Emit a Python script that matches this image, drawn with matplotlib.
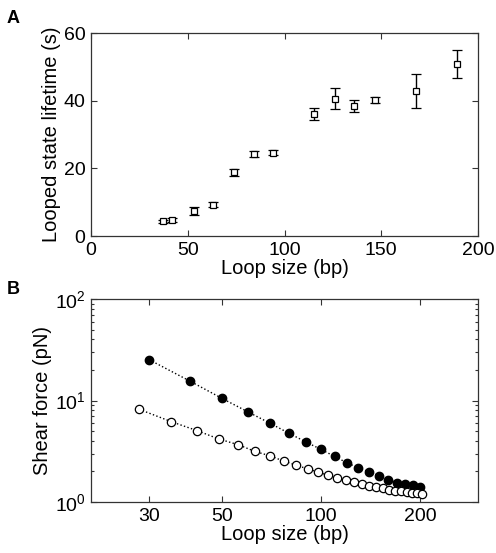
import numpy as np
import matplotlib
matplotlib.use('Agg')
import matplotlib.pyplot as plt
from matplotlib.ticker import FixedLocator, NullLocator, NullFormatter, ScalarFormatter

plt.rcParams['font.family'] = ['Liberation Sans', 'DejaVu Sans']
plt.rcParams['mathtext.default'] = 'regular'

# Panel A: looped state lifetime vs loop size
loop_a = [37, 42, 53, 63, 74, 84, 94, 115, 126, 136, 147, 168, 189]
lifetime = [4.3, 4.6, 7.4, 9.3, 18.8, 24.3, 24.6, 36.1, 40.6, 38.5, 40.2, 42.9, 50.8]
lifetime_err = [0.5, 0.6, 1.2, 0.8, 1.1, 0.9, 0.8, 1.7, 3.2, 1.7, 0.9, 5.0, 4.1]

# Panel B: shear force vs loop size
loop_filled = [30, 40, 50, 60, 70, 80, 90, 100, 110, 120, 130, 140, 150, 160, 170, 180, 190, 200]
force_filled = [25.3, 15.5, 10.5, 7.72, 5.97, 4.75, 3.90, 3.30, 2.81, 2.43, 2.17, 1.98,
                1.82, 1.66, 1.55, 1.49, 1.46, 1.40]
loop_open = [28, 35, 42, 49, 56, 63, 70, 77, 84, 91, 98, 105, 112, 119, 126, 133, 140,
             147, 154, 161, 168, 175, 182, 189, 196, 203]
force_open = [8.2, 6.2, 5.05, 4.17, 3.67, 3.15, 2.85, 2.53, 2.31, 2.12, 1.97, 1.84, 1.74,
              1.64, 1.57, 1.50, 1.44, 1.40, 1.36, 1.32, 1.29, 1.27, 1.26, 1.24, 1.22, 1.20]

fig = plt.figure(figsize=(4.96, 5.53), dpi=100)
ax1 = fig.add_axes([0.1835, 0.5732, 0.7802, 0.3671])
ax2 = fig.add_axes([0.1835, 0.0922, 0.7802, 0.3671])

# panel A
ax1.errorbar(loop_a, lifetime, yerr=lifetime_err, fmt='s', mfc='white', mec='black',
             ms=5, mew=0.9, ecolor='black', elinewidth=1, capsize=3.5, capthick=1)
ax1.set_xlim(0, 200)
ax1.set_ylim(0, 60)
ax1.set_xticks([0, 50, 100, 150, 200])
ax1.set_yticks([0, 20, 40, 60])
ax1.set_xlabel('Loop size (bp)', fontsize=14.5, labelpad=0)
ax1.set_ylabel('Looped state lifetime (s)', fontsize=14.5, labelpad=2)

# panel B
ax2.plot(loop_filled, force_filled, 'o:', color='black', mfc='black', mec='black',
         ms=6, lw=1)
ax2.plot(loop_open, force_open, 'o:', color='black', mfc='white', mec='black',
         ms=6, mew=0.9, lw=1)
ax2.set_xscale('log')
ax2.set_yscale('log')
ax2.set_xlim(20, 300)
ax2.set_ylim(1, 100)
ax2.xaxis.set_major_locator(FixedLocator([30, 50, 100, 200]))
ax2.xaxis.set_major_formatter(ScalarFormatter())
ax2.xaxis.set_minor_locator(NullLocator())
ax2.xaxis.set_minor_formatter(NullFormatter())
ax2.set_xlabel('Loop size (bp)', fontsize=14.5, labelpad=0)
ax2.set_ylabel('Shear force (pN)', fontsize=14.5, labelpad=2)

for ax in (ax1, ax2):
    ax.tick_params(which='both', direction='in', top=True, right=True, labelsize=14,
                   width=0.8, color='#333333', pad=4)
    ax.tick_params(which='major', length=4)
    ax.tick_params(which='minor', length=2)
    for s in ax.spines.values():
        s.set_linewidth(0.9)
        s.set_color('#333333')

fig.text(0.014, 0.9665, 'A', fontsize=13, fontweight='bold', va='center')
fig.text(0.014, 0.477, 'B', fontsize=13, fontweight='bold', va='center')

fig.savefig('out.png', dpi=100)
